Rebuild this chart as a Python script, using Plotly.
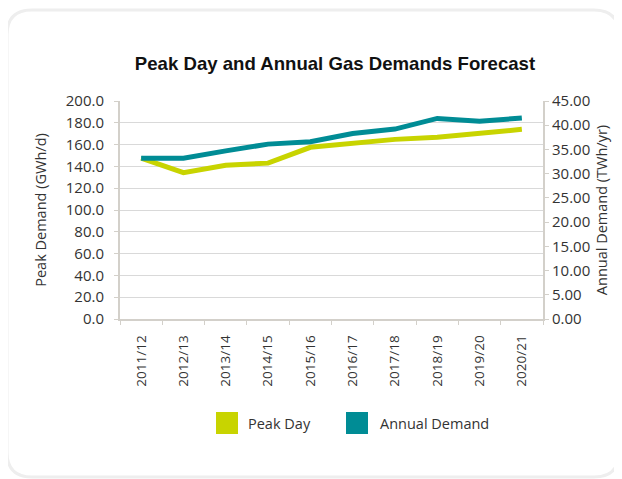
import plotly.graph_objects as go

# page is rendered with an 8px body margin; all pixel positions below are page pixels
OFF = 8
W, H = 622 - OFF, 479 - OFF
L, R, T, B = 120, 543, 101, 319  # plot area in page pixels

categories = ["2011/12", "2012/13", "2013/14", "2014/15", "2015/16",
              "2016/17", "2017/18", "2018/19", "2019/20", "2020/21"]
peak_day = [147.5, 134.2, 141.0, 143.0, 157.5, 161.5, 164.8, 166.7, 170.6, 174.0]
annual_demand = [33.2, 33.2, 34.7, 36.1, 36.6, 38.3, 39.2, 41.4, 40.8, 41.5]

peak_color = "#C8D400"
annual_color = "#008C95"
axis_color = "#D3D0CA"
grid_color = "#D9D9D9"
font_fam = "Open Sans, Noto Sans, sans-serif"


def px(x):
    return (x - L) / (R - L)


def py(y):
    return (B - y) / (B - T)


fig = go.Figure()
fig.add_trace(go.Scatter(x=categories, y=peak_day, name="Peak Day", mode="lines",
                         line=dict(color=peak_color, width=5), showlegend=False))
fig.add_trace(go.Scatter(x=categories, y=annual_demand, name="Annual Demand", mode="lines",
                         line=dict(color=annual_color, width=5), yaxis="y2", showlegend=False))

# rounded card border
x0, x1, y0, y1, r = px(7), px(619), py(10), py(477), 25
rx, ry = r / (R - L), r / (B - T)
path = (f"M {x0+rx},{y0} L {x1-rx},{y0} Q {x1},{y0} {x1},{y0-ry} "
        f"L {x1},{y1+ry} Q {x1},{y1} {x1-rx},{y1} "
        f"L {x0+rx},{y1} Q {x0},{y1} {x0},{y1+ry} "
        f"L {x0},{y0-ry} Q {x0},{y0} {x0+rx},{y0} Z")
shapes = [dict(type="path", xref="paper", yref="paper", path=path,
               line=dict(color="#EEEEEE", width=3), layer="below")]

# legend swatches
for lx, color in [(216, peak_color), (346, annual_color)]:
    shapes.append(dict(type="rect", xref="paper", yref="paper",
                       x0=px(lx), x1=px(lx + 22), y0=py(412), y1=py(434),
                       fillcolor=color, line=dict(width=0)))

annotations = [
    dict(text="Peak Day", xref="paper", yref="paper", x=px(246), y=py(423),
         xanchor="left", yanchor="middle", showarrow=False,
         font=dict(family=font_fam, size=14.5, color="#333333")),
    dict(text="Annual Demand", xref="paper", yref="paper", x=px(378), y=py(423),
         xanchor="left", yanchor="middle", showarrow=False,
         font=dict(family=font_fam, size=14.5, color="#333333")),
]

fig.update_layout(
    width=W, height=H,
    margin=dict(l=L - OFF, r=622 - R, t=T - OFF, b=479 - B),
    paper_bgcolor="white", plot_bgcolor="white",
    title=dict(text="<b>Peak Day and Annual Gas Demands Forecast</b>",
               x=(335 - OFF) / W, xanchor="center", xref="container",
               y=1 - (63 - OFF) / H, yanchor="middle", yref="container",
               font=dict(family="Liberation Sans, Arial, sans-serif", size=18.6, color="#111111")),
    font=dict(family=font_fam, size=14, color="#333333"),
    xaxis=dict(type="category", showline=True, linecolor=axis_color, linewidth=2,
               ticks="outside", tickson="boundaries", ticklen=4, tickcolor=axis_color,
               tickangle=-90, tickfont=dict(size=13.5, color="#333333"),
               ticklabelstandoff=9,
               showgrid=False, range=[-0.5, 9.5]),
    yaxis=dict(range=[0, 200], dtick=20, tickformat=".1f", showline=True,
               linecolor=axis_color, linewidth=2, ticks="outside", ticklen=4,
               tickcolor=axis_color, gridcolor=grid_color, gridwidth=1,
               zeroline=False, tickfont=dict(size=15, color="#333333"),
               ticklabelstandoff=7,
               title=dict(text="Peak Demand (GWh/d)", standoff=16,
                          font=dict(size=14.5, color="#333333"))),
    yaxis2=dict(range=[0, 45], dtick=5, tickformat=".2f", overlaying="y", side="right",
                showline=True, linecolor=axis_color, linewidth=2, ticks="outside",
                ticklen=4, tickcolor=axis_color, showgrid=False, zeroline=False,
                tickfont=dict(size=15, color="#333333"),
                title=dict(text="Annual Demand (TWh/yr)", standoff=8,
                           font=dict(size=14.5, color="#333333"))),
    shapes=shapes,
    annotations=annotations,
    showlegend=False,
)

fig.write_html("out.html")
